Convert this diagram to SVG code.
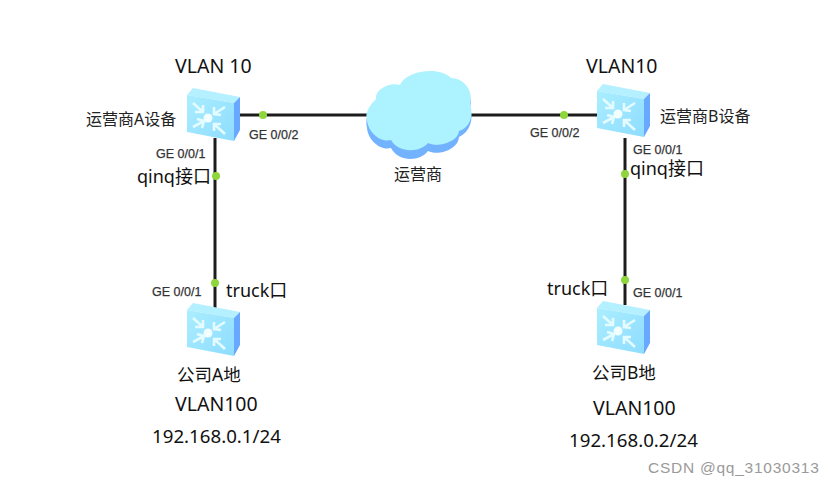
<svg xmlns="http://www.w3.org/2000/svg" width="834" height="485" viewBox="0 0 834 485">
<style>
text{font-family:"Noto Sans","Noto Sans CJK SC",sans-serif;fill:#111}
.big{font-size:18px}
.vlan{font-size:19.5px}
.ip{font-size:18.7px}
.co{font-size:17.5px}
.mid{font-size:16px;fill:#222}
.ge{font-family:"Liberation Sans",sans-serif;font-size:12.5px;fill:#333;stroke:#333;stroke-width:.25px}
.link{stroke:#1c1c1c;stroke-width:3;fill:none}
.dot{fill:#8fd63c}
.wm{font-family:"Liberation Sans",sans-serif;font-size:15.5px;letter-spacing:.75px;fill:#9a9a9a}
</style>
<defs>
<linearGradient id="face" x1="0" y1="0" x2="1" y2="1"><stop offset="0" stop-color="#aaeeff"/><stop offset="1" stop-color="#8edcff"/></linearGradient>
<g id="sw">
<path d="M-26,-21 L-20,-28 L27,-19 L21,-13 Z" fill="#b4f0ff"/>
<path d="M21,-13 L27,-19 L27,14 L21,25 Z" fill="#68a8ff"/>
<path d="M-26,-21 L21,-13 L21,25 L-26,16 Z" fill="url(#face)"/>
<circle cx="-5" cy="2" r="4.5" fill="#f2ffff"/>
<g stroke="#e4fcff" stroke-width="2.6" fill="none">
<path d="M-20,-13 L-10,-4 M-18,-4 L-10,-4 L-10,-11"/>
<path d="M12,-9 L1,-2 M1,-9 L1,-2 L8,-1"/>
<path d="M-20,11 L-9,5 M-16,3 L-9,5 L-11,12"/>
<path d="M12,18 L1,8 M1,15 L1,8 L8,8"/>
</g>
</g>
</defs>
<rect width="834" height="485" fill="#fff"/>
<g id="connectors">
<path class="link" d="M240,115 H370"/>
<path class="link" d="M468,115 H598"/>
<path class="link" d="M215,138 V308"/>
<path class="link" d="M625,138 V305"/>
<circle class="dot" cx="263" cy="115" r="4"/>
<circle class="dot" cx="564" cy="115" r="4"/>
<circle class="dot" cx="216" cy="176" r="4"/>
<circle class="dot" cx="625" cy="174" r="4"/>
<circle class="dot" cx="215" cy="283" r="4"/>
<circle class="dot" cx="625" cy="280" r="4"/>
</g>
<g id="cloud">
<path d="M367,124 C364,112 372,103 376,99 C375,88 392,82 400,85 C406,70 440,66 451,78 C463,78 474,90 470,104 C474,115 470,128 459,133 C458,146 438,152 428,147 C420,158 398,158 391,144 C380,147 368,136 367,124 Z" fill="#72b2ff" transform="translate(0,4)"/>
<path d="M367,120 C364,112 372,103 376,99 C375,88 392,82 400,85 C406,70 440,66 451,78 C463,78 474,90 470,104 C474,115 470,128 459,131 C458,142 438,148 428,143 C420,153 398,153 391,140 C380,143 368,132 367,120 Z" fill="#adf3ff"/>
<text class="mid" x="394" y="180">运营商</text>
</g>
<g id="sw-a"><use href="#sw" x="213" y="116"/>
<text class="mid" x="86" y="125">运营商A设备</text>
<text class="vlan" x="175" y="73">VLAN 10</text>
<text class="ge" x="249" y="139">GE 0/0/2</text>
<text class="ge" x="156" y="158">GE 0/0/1</text>
<text class="big" x="137" y="183">qinq接口</text>
</g>
<g id="sw-b"><use href="#sw" x="623" y="112"/>
<text class="mid" x="660" y="122">运营商B设备</text>
<text class="vlan" x="586" y="73">VLAN10</text>
<text class="ge" x="530" y="137">GE 0/0/2</text>
<text class="ge" x="633" y="154">GE 0/0/1</text>
<text class="big" x="630" y="175">qinq接口</text>
</g>
<g id="company-a"><use href="#sw" x="213" y="331"/>
<text class="ge" x="152" y="296">GE 0/0/1</text>
<text class="big" x="226" y="297">truck口</text>
<text class="co" x="177" y="381">公司A地</text>
<text class="vlan" x="175" y="411">VLAN100</text>
<text class="ip" x="152" y="443">192.168.0.1/24</text>
</g>
<g id="company-b"><use href="#sw" x="623" y="329"/>
<text class="ge" x="633" y="297">GE 0/0/1</text>
<text class="big" x="547" y="295">truck口</text>
<text class="co" x="592" y="379">公司B地</text>
<text class="vlan" x="593" y="415">VLAN100</text>
<text class="ip" x="569" y="447">192.168.0.2/24</text>
</g>
<text class="wm" x="648" y="473">CSDN @qq_31030313</text>
</svg>
